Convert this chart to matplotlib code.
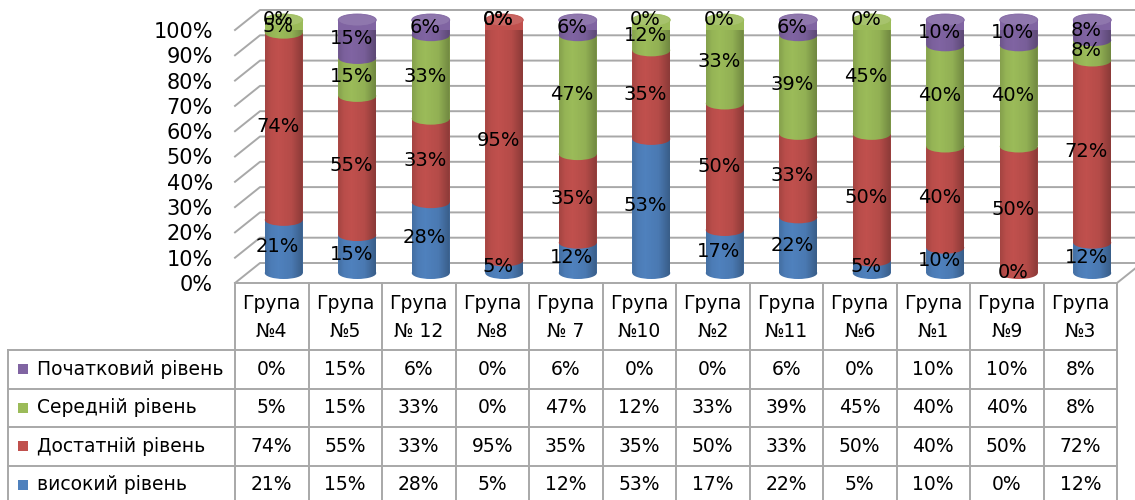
import numpy as np
import matplotlib
matplotlib.use("Agg")
import matplotlib.pyplot as plt
from matplotlib.patches import Rectangle, Ellipse, PathPatch
from matplotlib.path import Path
from matplotlib.transforms import offset_copy
import matplotlib.colors as mcolors

# data (percent)
groups = ["Група\n№4", "Група\n№5", "Група\n№ 12", "Група\n№8", "Група\n№ 7", "Група\n№10",
          "Група\n№2", "Група\n№11", "Група\n№6", "Група\n№1", "Група\n№9", "Група\n№3"]
high = [21, 15, 28, 5, 12, 53, 17, 22, 5, 10, 0, 12]
sufficient = [74, 55, 33, 95, 35, 35, 50, 33, 50, 40, 50, 72]
middle = [5, 15, 33, 0, 47, 12, 33, 39, 45, 40, 40, 8]
initial = [0, 15, 6, 0, 6, 0, 0, 6, 0, 10, 10, 8]

series = [high, sufficient, middle, initial]
series_names = ["високий рівень", "Достатній рівень", "Середній рівень", "Початковий рівень"]
colors = ["#4F81BD", "#C0504D", "#9BBB59", "#8064A2"]
yticks = np.arange(0, 101, 10)

W, H = 1135, 500
n = len(groups)
x = np.arange(n)
grid_c = "#a8a8a8"

fig = plt.figure(figsize=(W / 100, H / 100), dpi=100)

# ---- chart area (front edge of the 3D box) ----
ax_l, ax_r, ax_top, ax_bot = 235, 1117, 30, 283
ax = fig.add_axes([ax_l / W, 1 - ax_bot / H, (ax_r - ax_l) / W, (ax_bot - ax_top) / H])
ax.set_xlim(-0.5, n - 0.5)
ax.set_ylim(0, 100)
ax.patch.set_visible(False)
for sp in ax.spines.values():
    sp.set_visible(False)
ax.set_xticks([])
ax.set_yticks(yticks)
ax.set_yticklabels([f"{t}%" for t in yticks])
ax.tick_params(axis="y", length=0, pad=16, labelsize=15)

col_px = (ax_r - ax_l) / n
ypx = (ax_bot - ax_top) / 100
dx = 25 / col_px       # depth of the box
dy = 20 / ypx

# walls: slanted side lines + back wall gridlines
for t in yticks:
    ax.plot([-0.5, -0.5 + dx, n + 2], [t, t + dy, t + dy], color=grid_c, lw=1.4,
            clip_on=False, zorder=0)
# floor front edge and right side
ax.plot([-0.5, n - 0.5, n - 0.5 + dx], [0, 0, dy], color=grid_c, lw=1.4, clip_on=False, zorder=0)

# ---- cylinders ----
cyl = offset_copy(ax.transData, fig=fig, x=12, y=10, units="dots")
txt = offset_copy(ax.transData, fig=fig, x=6, y=10, units="dots")
w = 38 / col_px
eh = 12 / ypx

bottoms = np.zeros(n)
for vals, c in zip(series, colors):
    vals = np.array(vals, dtype=float)
    ax.bar(x, vals, bottom=bottoms, width=w, color=c, transform=cyl, clip_on=False,
           zorder=2, linewidth=0)
    for i in range(n):
        if vals[i] > 0:
            ax.add_patch(Ellipse((x[i], bottoms[i]), w, eh, facecolor=c, lw=0,
                                 transform=cyl, clip_on=False, zorder=2))
    bottoms += vals

# shading across each cylinder
u = np.linspace(0, 1, 80)
grad = np.zeros((1, 80, 4))
grad[..., 3] = np.interp(u, [0, 0.15, 0.35, 0.7, 1], [0.15, 0.04, 0.0, 0.06, 0.28])
ang = np.linspace(np.pi, 2 * np.pi, 30)
for i in range(n):
    top = bottoms[i]
    xs = np.concatenate([[x[i] - w / 2], x[i] + w / 2 * np.cos(ang), [x[i] + w / 2]])
    ys = np.concatenate([[top], eh / 2 * np.sin(ang), [top]])
    clip = PathPatch(Path(np.column_stack([xs, ys])), transform=cyl)
    im = ax.imshow(grad, extent=(x[i] - w / 2, x[i] + w / 2, -eh, top), transform=cyl,
                   aspect="auto", zorder=3, interpolation="bilinear")
    im.set_clip_path(clip)
    # top cap
    top_c = [c for vals, c in zip(series, colors) if vals[i] > 0][-1]
    cap = mcolors.to_rgb(top_c)
    cap = tuple(0.88 * np.array(cap) + 0.12 * np.array([1, 1, 1]))
    ax.add_patch(Ellipse((x[i], top), w, eh, facecolor=cap, edgecolor=mcolors.to_rgb(top_c),
                         lw=0.6, transform=cyl, clip_on=False, zorder=4))
ax.set_xlim(-0.5, n - 0.5)
ax.set_ylim(0, 100)

# data labels
bottoms = np.zeros(n)
for vals in series:
    for i in range(n):
        ax.text(x[i], bottoms[i] + vals[i] / 2, f"{vals[i]}%", transform=txt, ha="center",
                va="center", fontsize=14, zorder=5, clip_on=False)
    bottoms += np.array(vals)

# ---- data table ----
tb_left = 8
axt = fig.add_axes([tb_left / W, 0, (ax_r - tb_left) / W, (H - ax_bot) / H])
x_left = -0.5 - (ax_l - tb_left) / col_px
axt.set_xlim(x_left, n - 0.5)
axt.set_ylim(H, ax_bot)
axt.axis("off")


def px2x(px):
    return x_left + (px - tb_left) / col_px


row_edges = [350, 388.5, 427, 465.5, 504]
for k in range(n + 1):
    axt.plot([k - 0.5, k - 0.5], [ax_bot, H], color=grid_c, lw=1.4, clip_on=False)
axt.plot([x_left, x_left], [row_edges[0], H], color=grid_c, lw=1.4, clip_on=False)
for ye in row_edges[:-1]:
    axt.plot([x_left, n - 0.5], [ye, ye], color=grid_c, lw=1.4, clip_on=False)

for i, g in enumerate(groups):
    axt.text(x[i], (ax_bot + row_edges[0]) / 2 + 1, g, ha="center", va="center",
             fontsize=13.5, linespacing=1.55)

for r, s in enumerate(range(len(series) - 1, -1, -1)):
    yc = (row_edges[r] + row_edges[r + 1]) / 2
    axt.add_patch(Rectangle((px2x(18), yc - 5), 10 / col_px, 10, facecolor=colors[s],
                            lw=0, clip_on=False))
    axt.text(px2x(37), yc, series_names[s], ha="left", va="center", fontsize=13.5)
    for i in range(n):
        axt.text(x[i], yc, f"{series[s][i]}%", ha="center", va="center", fontsize=13.5)

fig.savefig("out.png", dpi=100)
